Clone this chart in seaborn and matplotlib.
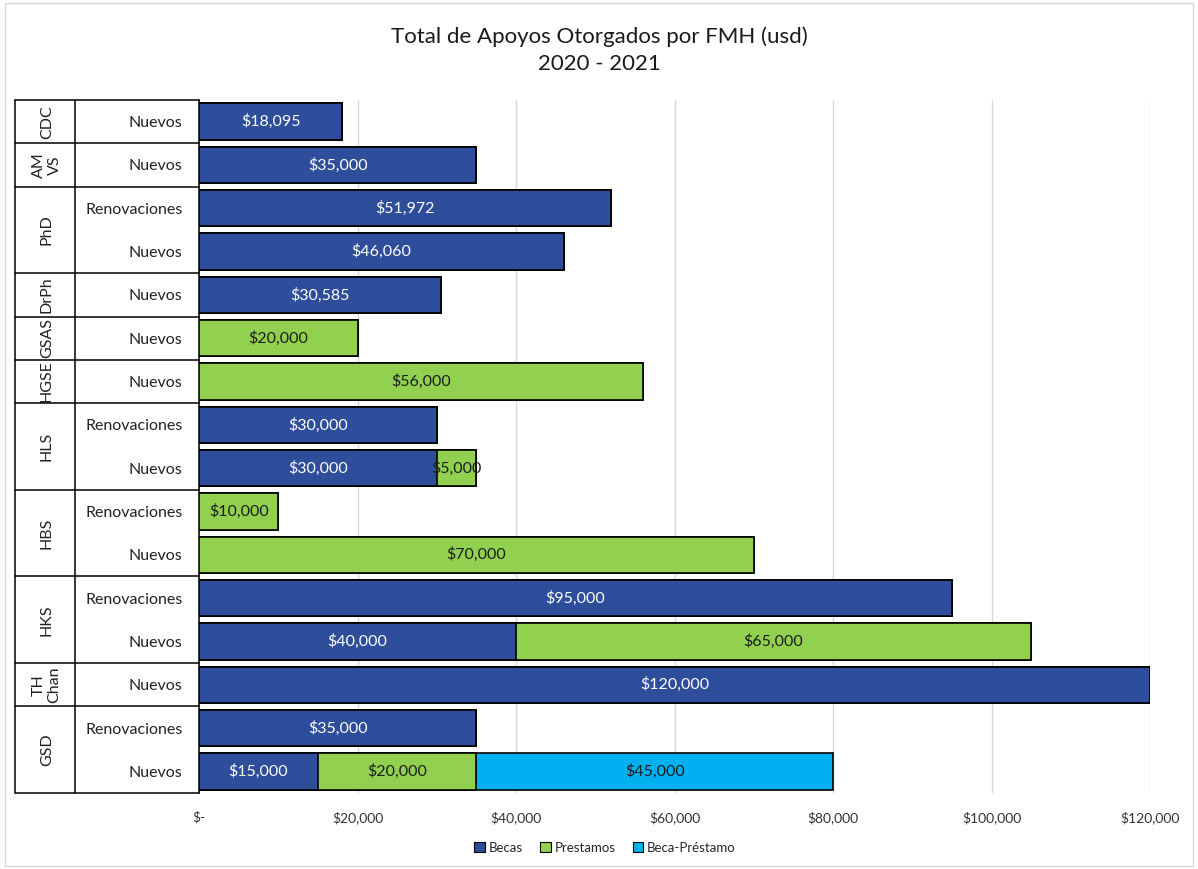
import matplotlib
matplotlib.use("Agg")
import matplotlib.pyplot as plt
import matplotlib.patches as mpatches
import matplotlib.transforms as mtransforms
import numpy as np
import pandas as pd
import seaborn as sns

# ---- data (top to bottom) ----
groups = ["CDC", "AM\nVS", "PhD", "PhD", "DrPh", "GSAS", "HGSE", "HLS", "HLS",
          "HBS", "HBS", "HKS", "HKS", "TH\nChan", "GSD", "GSD"]
subcats = ["Nuevos", "Nuevos", "Renovaciones", "Nuevos", "Nuevos", "Nuevos", "Nuevos",
           "Renovaciones", "Nuevos", "Renovaciones", "Nuevos", "Renovaciones", "Nuevos",
           "Nuevos", "Renovaciones", "Nuevos"]
becas = [18095, 35000, 51972, 46060, 30585, 0, 0, 30000, 30000, 0, 0, 95000, 40000,
         120000, 35000, 15000]
prestamos = [0, 0, 0, 0, 0, 20000, 56000, 0, 5000, 10000, 70000, 0, 65000, 0, 0, 20000]
beca_prestamo = [0, 0, 0, 0, 0, 0, 0, 0, 0, 0, 0, 0, 0, 0, 0, 45000]
x_ticks = [0, 20000, 40000, 60000, 80000, 100000, 120000]

series_names = ["Becas", "Prestamos", "Beca-Préstamo"]
colors = {"Becas": "#2E4D9A", "Prestamos": "#92D050", "Beca-Préstamo": "#00B0F0"}
text_colors = {"Becas": "white", "Prestamos": "#1c1c1c", "Beca-Préstamo": "#1c1c1c"}

rows = [f"{g}|{s}|{i}" for i, (g, s) in enumerate(zip(groups, subcats))]
df = pd.DataFrame({"row": rows, "Becas": becas, "Prestamos": prestamos,
                   "Beca-Préstamo": beca_prestamo})
df["cum1"] = df["Becas"]
df["cum2"] = df["cum1"] + df["Prestamos"]
df["cum3"] = df["cum2"] + df["Beca-Préstamo"]

sns.set_theme(style="white")
FONT = ["Lato", "DejaVu Sans"]
plt.rcParams["font.family"] = FONT

fig = plt.figure(figsize=(11.98, 8.69), dpi=100)
ax = fig.add_axes([199 / 1198, 1 - 793 / 869, 951 / 1198, 693 / 869])

# stacked bars drawn as overlaid cumulative totals
for col, name in [("cum3", "Beca-Préstamo"), ("cum2", "Prestamos"), ("cum1", "Becas")]:
    sub = df[df[col] > 0]
    sns.barplot(data=sub, x=col, y="row", order=rows, orient="h", color=colors[name],
                width=0.84, edgecolor="black", linewidth=1.2, saturation=1, ax=ax,
                zorder=3)

ax.set_xlim(0, 120000)
ax.set_ylim(len(rows) - 0.5, -0.5)
ax.set_xticks(x_ticks)
ax.set_xticklabels(["$-" if v == 0 else f"${v:,.0f}" for v in x_ticks],
                   fontsize=10, color="#333333")
ax.tick_params(axis="x", length=0, pad=13)
ax.set_yticks(range(len(rows)))
ax.set_yticklabels(subcats, fontsize=11.5, color="#222222")
ax.tick_params(axis="y", length=0, pad=12)
ax.set_xlabel("")
ax.set_ylabel("")
ax.grid(axis="x", color="#d9d9d9", linewidth=1, zorder=0)
ax.grid(axis="y", visible=False)
for side in ["top", "right", "bottom"]:
    ax.spines[side].set_visible(False)
ax.spines["left"].set_color("black")
ax.spines["left"].set_linewidth(1.1)

# value labels centred in each segment
for i, r in df.iterrows():
    left = 0
    for name in series_names:
        v = r[name]
        if v > 0:
            ax.text(left + v / 2, i, f"${v:,.0f}", ha="center", va="center",
                    fontsize=11.5, color=text_colors[name], zorder=5)
            left += v

# grouped category axis: box, separators, rotated group names
trans = mtransforms.blended_transform_factory(ax.transAxes, ax.transData)
box_left = (15 - 199) / 951
box_mid = (75 - 199) / 951
bounds = [-0.5]
spans = []
start = 0
for i in range(1, len(groups) + 1):
    if i == len(groups) or groups[i] != groups[start]:
        bounds.append(i - 0.5)
        spans.append((groups[start], start, i - 1))
        start = i
for b in bounds:
    ax.plot([box_left, 0], [b, b], color="black", lw=1.1, transform=trans,
            clip_on=False, zorder=6)
ax.plot([box_left, box_left], [-0.5, len(rows) - 0.5], color="black", lw=1.1,
        transform=trans, clip_on=False)
ax.plot([box_mid, box_mid], [-0.5, len(rows) - 0.5], color="black", lw=1.1,
        transform=trans, clip_on=False)
for name, a, b in spans:
    ax.text((box_left + box_mid) / 2 + 0.002, (a + b) / 2, name, rotation=90,
            ha="center", va="center", fontsize=11.5, color="#222222", transform=trans,
            linespacing=1.15, multialignment="center")

fig.suptitle("Total de Apoyos Otorgados por FMH (usd)\n2020 - 2021", y=0.97,
             fontsize=16, color="#1a1a1a", linespacing=1.45)

handles = [mpatches.Patch(facecolor=colors[n], edgecolor="black", linewidth=0.8, label=n)
           for n in series_names]
fig.legend(handles=handles, loc="center", bbox_to_anchor=(605 / 1198, 1 - 848 / 869),
           ncol=3, frameon=False, fontsize=9.5, handlelength=0.8, handleheight=0.8,
           handletextpad=0.3, columnspacing=1.3)

fig.patches.append(mpatches.Rectangle((0.004, 0.004), 0.992, 0.992, transform=fig.transFigure,
                                      fill=False, edgecolor="#d9d9d9", lw=1))

fig.savefig("out.png", dpi=100, facecolor="white")
